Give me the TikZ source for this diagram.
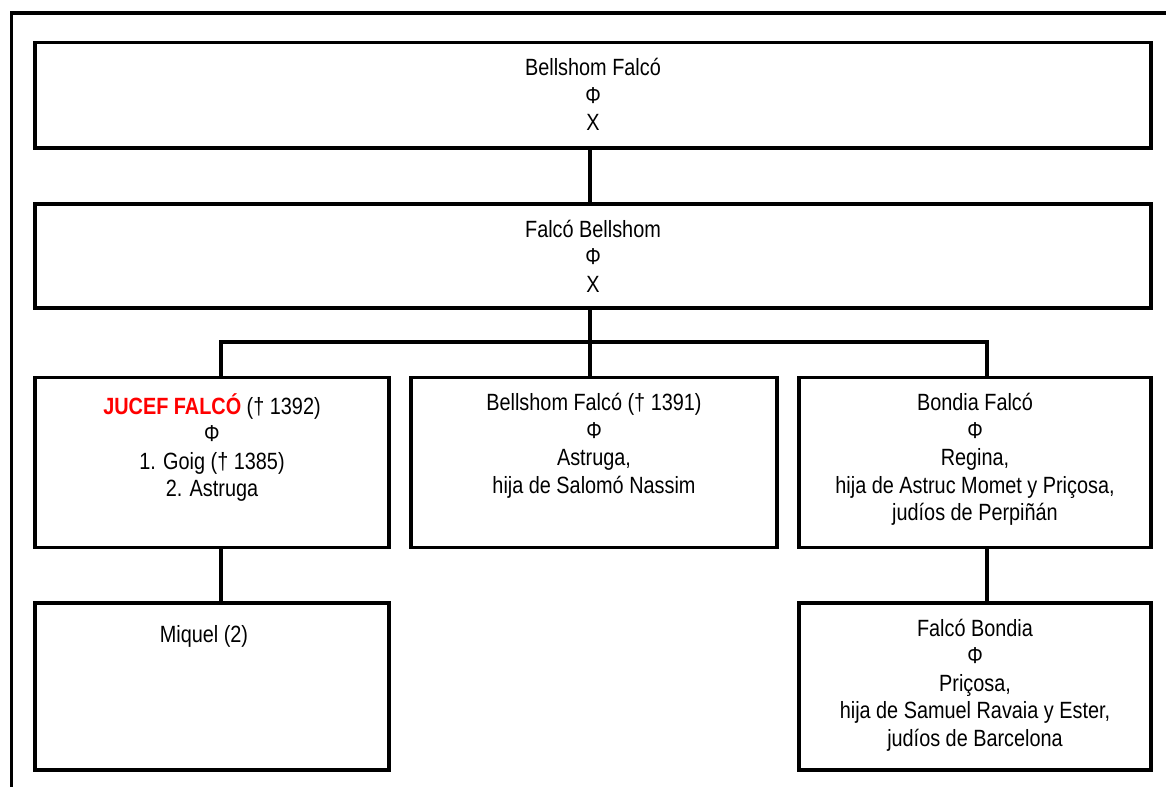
\documentclass[tikz,border=0pt]{standalone}
\usepackage{fontspec}
\setmainfont{Liberation Sans}[FakeStretch=0.845]
\usetikzlibrary{calc}

\newcommand{\casat}{{\fontsize{11.5}{13.75}\selectfont Φ}}

\begin{document}
\begin{tikzpicture}[
    x=0.5pt, y=-0.5pt,
    person/.style={draw, line width=1.7pt, inner sep=0pt},
    txt/.style={anchor=north, inner sep=0pt, align=center, yshift=-8.6pt,
        font=\fontsize{11.75}{13.75}\selectfont,
        execute at begin node={\rule{0pt}{12pt}}},
    link/.style={line width=1.7pt},
    frame/.style={line width=1.7pt}
]
\useasboundingbox (0,0) rectangle (1166,787);
\draw[frame] (1166,13) -| (11.5,787);

\node[person, minimum width=558pt, minimum height=52.75pt] (bell) at (593,95.25) {};
\node[person, minimum width=558pt, minimum height=52pt] (fbell) at (593,256) {};
\node[person, minimum width=177pt, minimum height=85pt] (jucef) at (212,462.5) {};
\node[person, minimum width=183pt, minimum height=85pt] (bellsh) at (594,462.5) {};
\node[person, minimum width=176pt, minimum height=85pt] (bondia) at (975,462.5) {};
\node[person, minimum width=177pt, minimum height=83.5pt] (miquel) at (212,686.5) {};
\node[person, minimum width=176pt, minimum height=83.5pt] (fbondia) at (975,686.5) {};

\node[txt] (bell-t) at (bell.north) {Bellshom Falcó\\ \casat\\ X};
\node[txt] (fbell-t) at (fbell.north) {Falcó Bellshom\\ \casat\\ X};
\node[txt] (jucef-t) at (jucef.north) {{\color{red}\bfseries JUCEF FALCÓ} († 1392)\\ \casat\\ 1. Goig († 1385)\\ 2. Astruga};
\node[txt] (bellsh-t) at (bellsh.north) {Bellshom Falcó († 1391)\\ \casat\\ Astruga,\\ hija de Salomó Nassim};
\node[txt] (bondia-t) at (bondia.north) {Bondia Falcó\\ \casat\\ Regina,\\ hija de Astruc Momet y Priçosa,\\ judíos de Perpiñán};
\node[txt, xshift=-4pt] (miquel-t) at (miquel.north) {Miquel (2)};
\node[txt] (fbondia-t) at (fbondia.north) {Falcó Bondia\\ \casat\\ Priçosa,\\ hija de Samuel Ravaia y Ester,\\ judíos de Barcelona};

\coordinate (jdrop) at (221,342);
\coordinate (bdrop) at (987,342);

\draw[link] (bell.south -| 590,0) -- (fbell.north -| 590,0);
\draw[link] (fbell.south -| 590,0) -- (bellsh.north -| 590,0);
\draw[link] (jdrop |- jucef.north) -- (jdrop) -- (bdrop) -- (bdrop |- bondia.north);
\draw[link] (jdrop |- jucef.south) -- (jdrop |- miquel.north);
\draw[link] (bdrop |- bondia.south) -- (bdrop |- fbondia.north);
\end{tikzpicture}
\end{document}
